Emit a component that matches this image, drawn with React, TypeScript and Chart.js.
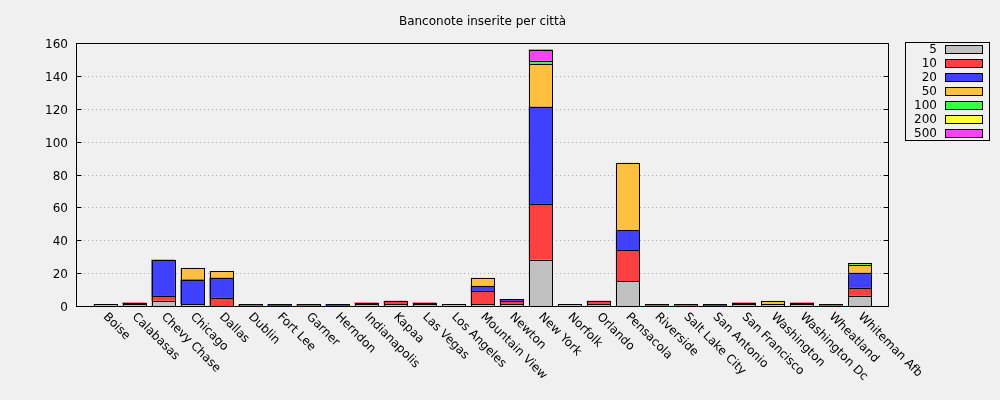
import React, { useEffect, useRef } from 'react';
import { Chart, registerables } from 'chart.js';

Chart.register(...registerables);

const TITLE = 'Banconote inserite per città';

const categories = [
  'Boise', 'Calabasas', 'Chevy Chase', 'Chicago', 'Dallas', 'Dublin', 'Fort Lee',
  'Garner', 'Herndon', 'Indianapolis', 'Kapaa', 'Las Vegas', 'Los Angeles',
  'Mountain View', 'Newton', 'New York', 'Norfolk', 'Orlando', 'Pensacola',
  'Riverside', 'Salt Lake City', 'San Antonio', 'San Francisco', 'Washington',
  'Washington Dc', 'Wheatland', 'Whiteman Afb',
];

const seriesLabels = ['5', '10', '20', '50', '100', '200', '500'];
const seriesColors = ['#c0c0c0', '#ff4040', '#4040ff', '#ffc040', '#40ff40', '#ffff40', '#ff40ff'];

const v5 = [1, 1, 3, 1, 0, 0, 0, 0, 0, 1, 1, 1, 1, 1, 1, 28, 1, 1, 15, 0, 0, 0, 1, 1, 1, 0, 6];
const v10 = [0, 1, 3, 0, 5, 1, 0, 1, 0, 1, 2, 1, 0, 8, 2, 34, 0, 2, 19, 1, 1, 0, 1, 0, 1, 1, 5];
const v20 = [0, 0, 22, 15, 12, 0, 1, 0, 1, 0, 0, 0, 0, 3, 1, 59, 0, 0, 12, 0, 0, 1, 0, 0, 0, 0, 9];
const v50 = [0, 0, 0, 7, 4, 0, 0, 0, 0, 0, 0, 0, 0, 5, 0, 26, 0, 0, 41, 0, 0, 0, 0, 2, 0, 0, 5];
const v100 = [0, 0, 0, 0, 0, 0, 0, 0, 0, 0, 0, 0, 0, 0, 0, 2, 0, 0, 0, 0, 0, 0, 0, 0, 0, 0, 1];
const v200 = [0, 0, 0, 0, 0, 0, 0, 0, 0, 0, 0, 0, 0, 0, 0, 0, 0, 0, 0, 0, 0, 0, 0, 0, 0, 0, 0];
const v500 = [0, 0, 0, 0, 0, 0, 0, 0, 0, 0, 0, 0, 0, 0, 0, 7, 0, 0, 0, 0, 0, 0, 0, 0, 0, 0, 0];

const allSeries = [v5, v10, v20, v50, v100, v200, v500];

const yTicks = [0, 20, 40, 60, 80, 100, 120, 140, 160];

const FONT = '12px "DejaVu Sans", sans-serif';

const gnuplotPlugin = {
  id: 'gnuplotLook',
  beforeDraw(chart: any) {
    const ctx = chart.ctx;
    ctx.save();
    ctx.fillStyle = '#f0f0f0';
    ctx.fillRect(0, 0, chart.width, chart.height);
    ctx.restore();
  },
  beforeDatasetsDraw(chart: any) {
    const ctx = chart.ctx;
    const { left, right } = chart.chartArea;
    const y = chart.scales.y;
    ctx.save();
    ctx.strokeStyle = '#a8a8a8';
    ctx.lineWidth = 1;
    ctx.setLineDash([1, 3]);
    yTicks.forEach((t) => {
      const py = Math.round(y.getPixelForValue(t)) + 0.5;
      ctx.beginPath();
      ctx.moveTo(left, py);
      ctx.lineTo(right, py);
      ctx.stroke();
    });
    ctx.restore();
  },
  afterDatasetsDraw(chart: any) {
    const ctx = chart.ctx;
    const { left, right, top, bottom } = chart.chartArea;
    const x = chart.scales.x;
    const y = chart.scales.y;
    ctx.save();
    ctx.strokeStyle = '#000';
    ctx.lineWidth = 1;
    ctx.setLineDash([]);
    // bar outlines (centred on the edges, as gnuplot draws them)
    chart.data.datasets.forEach((ds: any, di: number) => {
      const meta = chart.getDatasetMeta(di);
      meta.data.forEach((el: any, j: number) => {
        if (ds.data[j].y == null) return;
        const p = el.getProps(['x', 'y', 'base', 'width'], true);
        const x0 = Math.round(p.x - p.width / 2);
        const w = Math.round(p.width);
        const yt = Math.round(p.y);
        const yb = Math.round(p.base);
        ctx.strokeRect(x0 + 0.5, yt + 0.5, w, yb - yt);
      });
    });
    // frame
    const L = Math.round(left) + 0.5;
    const R = Math.round(right) - 0.5;
    const T = Math.round(top) + 0.5;
    const B = Math.round(bottom) + 0.5;
    ctx.strokeRect(L, T, R - L, B - T);
    // y tick marks (inward, mirrored) and labels
    ctx.fillStyle = '#000';
    ctx.font = FONT;
    ctx.textAlign = 'right';
    ctx.textBaseline = 'middle';
    yTicks.forEach((t) => {
      const py = Math.round(y.getPixelForValue(t)) + 0.5;
      ctx.beginPath();
      ctx.moveTo(L, py);
      ctx.lineTo(L + 5, py);
      ctx.moveTo(R, py);
      ctx.lineTo(R - 5, py);
      ctx.stroke();
      ctx.fillText(String(t), 68, py + 1);
    });
    // x labels rotated -45 (going down-right)
    ctx.textAlign = 'left';
    categories.forEach((c, i) => {
      const px = x.getPixelForValue(i);
      ctx.save();
      ctx.translate(px, bottom + 9);
      ctx.rotate(Math.PI / 4);
      ctx.fillText(c, 0, 0);
      ctx.restore();
    });
    // title
    ctx.textAlign = 'center';
    ctx.fillText(TITLE, (left + right) / 2, 22);
    // legend
    ctx.strokeRect(905.5, 42.5, 84, 98);
    seriesLabels.forEach((lab, i) => {
      const ry = 50 + 14 * i;
      ctx.textAlign = 'right';
      ctx.fillStyle = '#000';
      ctx.fillText(lab, 937, ry);
      ctx.fillStyle = seriesColors[i];
      ctx.fillRect(945.5, ry - 4.5, 37, 8);
      ctx.strokeRect(945.5, ry - 4.5, 37, 8);
    });
    ctx.restore();
  },
};

export default function App() {
  const ref = useRef<HTMLCanvasElement | null>(null);
  useEffect(() => {
    if (!ref.current) return;
    const datasets = allSeries.map((vals, si) => ({
      label: seriesLabels[si],
      data: vals.map((v, i) => ({ x: i, y: v === 0 ? null : v })),
      backgroundColor: seriesColors[si],
      borderWidth: 0,
      barThickness: 23,
    }));
    const chart = new Chart(ref.current, {
      type: 'bar',
      data: { datasets },
      plugins: [gnuplotPlugin],
      options: {
        animation: false,
        responsive: false,
        maintainAspectRatio: false,
        layout: { padding: { top: 43, right: 111, left: 0, bottom: 0 } },
        plugins: {
          legend: { display: false },
          title: { display: false },
          tooltip: { enabled: false },
        },
        scales: {
          x: {
            type: 'linear',
            min: -1,
            max: 27,
            stacked: true,
            offset: false,
            grid: { display: false },
            border: { display: false },
            ticks: { display: false },
            afterFit: (s: any) => {
              s.height = 94;
            },
          },
          y: {
            min: 0,
            max: 160,
            stacked: true,
            grid: { display: false, drawTicks: false },
            border: { display: false },
            ticks: { display: false, stepSize: 20 },
            afterFit: (s: any) => {
              s.width = 76;
            },
          },
        },
      },
    });
    return () => chart.destroy();
  }, []);
  return (
    <div style={{ position: 'fixed', left: 0, top: 0, width: 1000, height: 400, background: '#f0f0f0' }}>
      <canvas ref={ref} width={1000} height={400} style={{ width: 1000, height: 400, display: 'block' }} />
    </div>
  );
}
